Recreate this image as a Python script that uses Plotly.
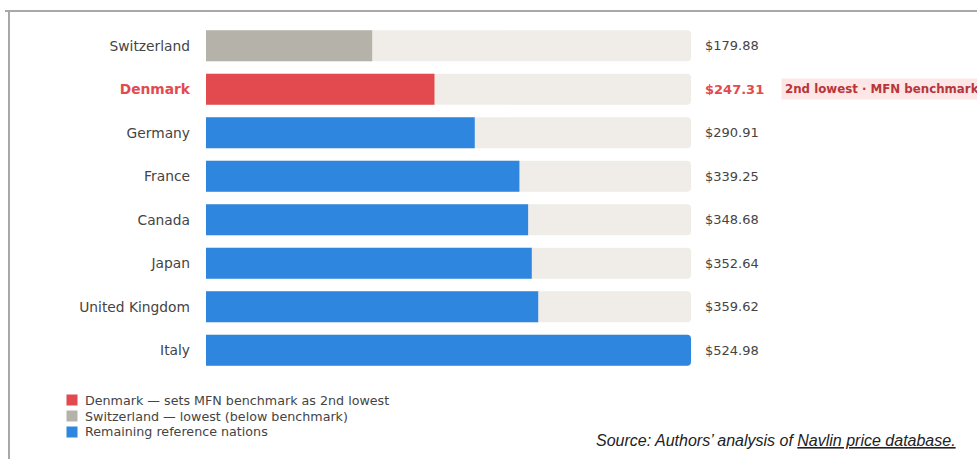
import plotly.graph_objects as go

countries = ["Switzerland", "Denmark", "Germany", "France", "Canada", "Japan", "United Kingdom", "Italy"]
prices = [179.88, 247.31, 290.91, 339.25, 348.68, 352.64, 359.62, 524.98]
groups = ["swiss", "denmark", "other", "other", "other", "other", "other", "other"]
legend_order = ["denmark", "swiss", "other"]
legend_names = {
    "denmark": "Denmark — sets MFN benchmark as 2nd lowest",
    "swiss": "Switzerland — lowest (below benchmark)",
    "other": "Remaining reference nations",
}
badge_text = "2nd lowest · MFN benchmark"
source_text = "Source: Authors’ analysis of <u>Navlin price database.</u>"

colors = {"denmark": "#e34a4f", "swiss": "#b5b2aa", "other": "#2e86de"}
track_color = "#f0ede8"
label_color = "#444444"
red = "#e34a4f"

W, H = 977, 459
L, R, T, B = 206, 286, 24, 87
pw = W - L - R
ph = H - T - B
xmax = max(prices)


def px_x(px):
    return (px - L) / pw


def px_y(py):
    return 1 - (py - T) / ph


fig = go.Figure()

# background tracks
fig.add_trace(go.Bar(
    x=[xmax] * len(countries), y=countries, orientation="h",
    marker=dict(color=track_color, cornerradius=4, line=dict(width=0)),
    width=0.71, showlegend=False, hoverinfo="skip",
))

for g in legend_order:
    xs = [p for p, gg in zip(prices, groups) if gg == g]
    ys = [c for c, gg in zip(countries, groups) if gg == g]
    fig.add_trace(go.Bar(
        x=xs, y=ys, orientation="h", name=legend_names[g],
        marker=dict(color=colors[g], cornerradius=4, line=dict(width=0)),
        width=0.71, showlegend=False,
    ))

# value labels
for c, p, g in zip(countries, prices, groups):
    is_dk = g == "denmark"
    fig.add_annotation(
        x=1, xref="paper", y=c, yref="y", xanchor="left", yanchor="middle",
        xshift=12, showarrow=False,
        text=(f"<b>${p:.2f}</b>" if is_dk else f"${p:.2f}"),
        font=dict(family="DejaVu Sans", size=13, color=red if is_dk else label_color),
    )
    if is_dk:
        fig.add_annotation(
            x=1, xref="paper", y=c, yref="y", xanchor="left", yanchor="middle",
            xshift=90, showarrow=False,
            text=f"<b>{badge_text}</b>",
            font=dict(family="DejaVu Sans", size=11.8, color="#b8353a"),
            bgcolor="#fde6e6", borderpad=3,
        )

ticktext = [f"<b><span style='color:{red}'>{c}</span></b>" if g == "denmark" else c
            for c, g in zip(countries, groups)]

# custom legend
for i, g in enumerate(legend_order):
    cy = 400 + 16 * i
    fig.add_shape(type="rect", xref="paper", yref="paper",
                  x0=px_x(66.5), x1=px_x(77.5), y0=px_y(cy - 5.5), y1=px_y(cy + 5.5),
                  fillcolor=colors[g], line=dict(width=0), layer="above")
    fig.add_annotation(
        x=px_x(83), xref="paper", y=px_y(cy), yref="paper",
        xanchor="left", yanchor="middle", showarrow=False,
        text=legend_names[g],
        font=dict(family="DejaVu Sans", size=12.7, color=label_color),
    )

fig.add_annotation(
    x=px_x(958), xref="paper", y=px_y(440), yref="paper",
    xanchor="right", yanchor="middle", showarrow=False,
    text=f"<i>{source_text}</i>",
    font=dict(family="Liberation Sans", size=16, color="#222222"),
)

# frame lines
fig.add_shape(type="line", xref="paper", yref="paper",
              x0=px_x(5), x1=px_x(W + 5), y0=px_y(11), y1=px_y(11),
              line=dict(color="#a8a8a8", width=2))
fig.add_shape(type="line", xref="paper", yref="paper",
              x0=px_x(9), x1=px_x(9), y0=px_y(11), y1=px_y(H + 5),
              line=dict(color="#a8a8a8", width=2))

fig.update_layout(
    width=W, height=H,
    margin=dict(l=L, r=R, t=T, b=B, autoexpand=False),
    barmode="overlay",
    plot_bgcolor="white", paper_bgcolor="white",
    font=dict(family="DejaVu Sans", size=13, color=label_color),
    xaxis=dict(range=[0, xmax], visible=False, fixedrange=True),
    yaxis=dict(
        type="category", categoryorder="array", categoryarray=countries,
        tickvals=countries, ticktext=ticktext,
        autorange=False, range=[len(countries) - 0.5, -0.5],
        showgrid=False, zeroline=False, showline=False, ticks="",
        ticklabelstandoff=15,
        tickfont=dict(family="DejaVu Sans", size=13.8, color=label_color),
    ),
    showlegend=False,
)

fig.write_html("out.html", config={"displayModeBar": False},
               post_script="document.body.style.margin='0';")
